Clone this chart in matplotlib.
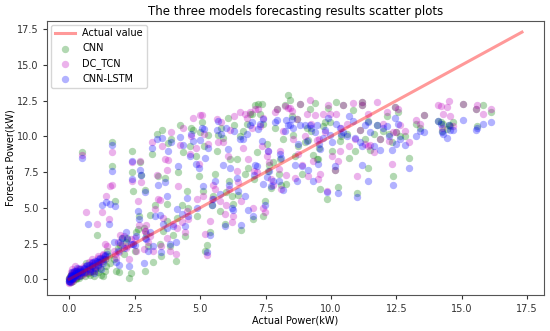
import matplotlib
matplotlib.use("Agg")
import matplotlib.pyplot as plt

# actual power and the three model forecasts (kW)
actual = [0.0, 0.0, 0.02, 0.05, 0.05, 0.08, 0.1, 0.1, 0.12, 0.15, 0.18, 0.2, 0.22, 0.25, 0.28,
          0.3, 0.35, 0.38, 0.4, 0.45, 0.5, 0.55, 0.6, 0.65, 0.7, 0.75, 0.8, 0.85, 0.9, 0.95,
          1.0, 1.05, 1.1, 1.15, 1.2, 1.25, 1.3, 1.35, 1.4, 1.45, 1.5, 1.55, 1.62, 1.65, 1.7,
          1.75, 1.8, 1.85, 1.9, 2.0, 2.1, 2.2, 2.3, 2.35, 2.38, 2.4, 2.45, 2.55, 2.63, 2.65,
          2.71, 2.75, 2.84, 2.88, 2.9, 3.0, 3.08, 3.2, 3.27, 3.34, 3.4, 3.46, 3.5, 3.53, 3.66,
          3.72, 3.75, 3.78, 3.85, 3.95, 4.06, 4.15, 4.23, 4.3, 4.42, 4.5, 4.6, 4.67, 4.74, 4.83,
          4.9, 5.0, 5.06, 5.12, 5.2, 5.25, 5.3, 5.38, 5.45, 5.55, 5.63, 5.69, 5.75, 5.88, 5.94,
          6.0, 6.05, 6.14, 6.2, 6.27, 6.4, 6.52, 6.58, 6.65, 6.71, 6.84, 6.9, 6.97, 7.03, 7.1,
          7.16, 7.22, 7.29, 7.35, 7.42, 7.48, 7.55, 7.61, 7.7, 7.8, 7.92, 8.0, 8.1, 8.17, 8.24,
          8.3, 8.37, 8.43, 8.56, 8.62, 8.69, 8.8, 8.88, 9.0, 9.07, 9.14, 9.2, 9.3, 9.39, 9.45,
          9.5, 9.6, 9.7, 9.77, 9.85, 9.96, 10.05, 10.14, 10.2, 10.28, 10.35, 10.47, 10.6, 10.7,
          10.85, 10.98, 11.1, 11.17, 11.2, 11.3, 11.43, 11.5, 11.63, 11.75, 11.87, 12.0, 12.13,
          12.32, 12.38, 12.45, 12.5, 12.58, 12.64, 12.83, 13.0, 13.25, 13.55, 14.1, 14.2, 14.23,
          14.42, 14.5, 14.55, 14.68, 15.05, 15.55, 15.6, 15.8, 16.1]

cnn = [-0.1, 0.1, 0.2, 0.0, -0.2, 0.3, 0.1, 0.4, 0.0, 0.2, 0.5, 0.1, 0.3, 0.0, 0.6,
       0.2, 0.4, 0.1, 0.7, 0.3, 8.9, 0.5, 0.2, 1.1, 0.4, 0.8, 0.3, 0.6, 1.0, 0.2,
       0.7, 3.1, 0.5, 1.2, 0.3, 1.5, 0.2, 1.4, 0.9, 2.0, 1.6, 1.1, 9.6, 7.9, 1.4,
       5.5, 0.6, 2.2, 0.5, 2.9, 1.8, 2.9, 0.05, 0.4, 9.0, 7.5, 6.2, 3.3, 3.5, 4.4,
       8.2, 7.3, 3.6, 0.6, 6.25, 2.3, 4.5, 1.2, 5.2, 10.2, 7.2, 2.5, 1.6, 10.45, 7.1,
       4.1, 5.3, 9.56, 2.3, 3.1, 1.3, 7.5, 10.8, 5.2, 3.0, 6.2, 9.3, 10.56, 10.45, 8.6,
       4.4, 10.3, 11.0, 6.2, 2.0, 2.4, 10.1, 3.3, 5.2, 7.4, 9.0, 10.1, 4.8, 9.9, 3.9,
       6.1, 11.3, 8.45, 5.8, 5.3, 8.45, 10.0, 3.45, 10.35, 7.4, 7.77, 11.6, 11.6, 4.2, 12.2,
       8.9, 12.3, 11.6, 12.3, 4.4, 5.5, 9.45, 7.6, 6.4, 8.2, 11.9, 7.4, 6.6, 9.8, 12.2,
       6.7, 12.9, 12.55, 10.1, 8.6, 11.25, 12.3, 7.4, 9.6, 10.6, 9.75, 11.9, 8.7, 12.36, 8.45,
       8.45, 6.3, 10.7, 11.0, 5.6, 11.0, 9.0, 7.65, 12.4, 6.45, 9.7, 12.2, 10.2, 8.5,
       11.85, 6.05, 10.45, 12.2, 12.4, 9.8, 7.77, 9.05, 10.2, 10.8, 9.85, 10.4, 11.4,
       9.6, 7.2, 12.07, 10.3, 11.7, 10.0, 10.0, 8.5, 10.9, 11.5, 11.05, 11.0, 10.4,
       10.5, 10.8, 10.7, 11.0, 12.3, 11.9, 10.7, 12.2, 11.7]

dc_tcn = [-0.2, -0.3, 0.1, 0.3, 0.0, 0.5, -0.1, 0.2, 0.7, 0.1, 0.4, 0.9, 0.2, 0.5, 0.3,
          0.6, 0.2, 0.8, 0.5, 0.4, 8.7, 0.9, 0.4, 4.7, 0.7, 1.2, 0.5, 1.4, 0.8, 0.6,
          1.1, 3.9, 1.6, 0.9, 1.3, 4.7, 1.8, 2.5, 5.8, 2.3, 4.2, 6.5, 8.9, 6.6, 2.0,
          1.8, 1.5, 2.6, 1.9, 2.4, 3.0, 2.3, 1.4, 2.8, 8.2, 6.9, 2.5, 2.0, 5.5, 3.8,
          8.3, 6.8, 2.15, 3.4, 3.4, 2.6, 3.0, 2.0, 4.9, 7.3, 5.6, 5.55, 2.3, 9.3, 8.4,
          2.9, 7.65, 8.35, 2.0, 3.9, 1.8, 6.5, 9.4, 4.0, 3.3, 4.8, 8.8, 10.0, 11.3, 9.2,
          5.6, 11.5, 11.5, 5.8, 3.2, 1.7, 9.5, 4.1, 5.6, 6.3, 11.2, 9.6, 5.5, 9.6, 4.6,
          5.2, 8.6, 10.45, 4.0, 4.4, 7.6, 11.7, 5.5, 9.2, 11.6, 8.45, 11.7, 10.6, 5.0, 11.9,
          7.5, 11.9, 10.7, 9.3, 5.0, 4.7, 8.6, 9.0, 7.0, 6.6, 11.9, 7.7, 6.3, 10.4, 12.1,
          7.3, 12.0, 12.0, 9.8, 7.1, 11.25, 12.3, 8.0, 10.0, 11.6, 7.2, 12.55, 8.3, 11.5, 9.75,
          7.0, 7.4, 11.6, 10.3, 6.2, 11.6, 8.6, 7.65, 11.6, 8.3, 9.0, 12.2, 10.9, 9.3,
          12.35, 7.2, 10.45, 12.4, 12.2, 9.5, 9.3, 9.4, 8.9, 12.4, 9.85, 10.9, 11.7,
          8.1, 10.3, 12.07, 10.3, 11.95, 10.8, 10.4, 9.6, 11.15, 11.5, 12.2, 12.1, 10.6,
          12.07, 12.5, 11.4, 10.7, 12.3, 11.9, 12.2, 11.6, 11.95]

cnn_lstm = [-0.1, 0.0, -0.2, 0.1, 0.2, 0.3, 0.0, 0.5, 0.2, 0.1, 0.6, 0.3, 0.2, 0.4, 0.8,
            0.3, 0.5, 0.2, 0.6, 0.4, 8.5, 0.7, 0.5, 0.9, 3.9, 1.0, 0.6, 0.9, 1.2, 0.4,
            0.8, 1.3, 1.0, 1.4, 0.7, 5.2, 1.1, 1.7, 5.4, 1.8, 3.9, 5.3, 9.4, 7.6, 2.6,
            5.1, 1.2, 2.0, 1.0, 2.9, 2.2, 2.8, 0.9, 2.5, 8.3, 7.0, 2.5, 3.0, 4.8, 4.2,
            7.65, 7.3, 1.1, 2.9, 6.1, 2.0, 3.3, 2.3, 4.4, 9.8, 6.6, 4.5, 1.9, 9.9, 6.8,
            3.6, 5.8, 9.0, 2.5, 3.7, 2.6, 7.9, 9.98, 4.6, 3.7, 5.7, 8.6, 10.2, 9.7, 8.1,
            5.0, 9.75, 10.6, 6.5, 8.5, 1.9, 9.2, 3.1, 5.2, 6.9, 10.45, 11.1, 6.0, 7.98, 3.7,
            10.6, 9.1, 7.77, 5.0, 4.85, 7.1, 9.8, 3.8, 9.8, 5.8, 4.85, 10.8, 11.0, 4.4, 8.0,
            7.9, 10.5, 10.9, 9.7, 6.7, 5.2, 7.18, 9.0, 6.5, 6.9, 11.15, 6.9, 8.5, 6.24, 10.4,
            11.15, 10.8, 10.8, 10.6, 8.0, 6.86, 10.8, 7.9, 10.8, 9.7, 7.65, 10.8, 6.9, 10.3, 10.8,
            8.1, 9.1, 9.9, 10.45, 6.1, 10.1, 9.6, 7.9, 10.9, 6.05, 10.57, 10.3, 10.0, 11.4,
            11.1, 5.78, 9.6, 8.0, 9.3, 10.8, 6.9, 10.3, 9.3, 10.8, 9.05, 10.6, 10.7,
            9.05, 6.6, 11.3, 9.5, 10.9, 9.85, 9.4, 7.77, 10.0, 10.33, 11.05, 10.9, 10.3,
            9.86, 10.8, 10.45, 10.45, 11.15, 10.45, 10.6, 10.9, 11.0]

# second pass: denser spots (origin cluster, along the line, upper band)
actual += [0.0, 0.03, 0.06, 0.09, 0.13, 0.17, 0.21, 0.27, 0.33, 0.42, 0.48, 0.58, 0.68,
           0.78, 0.88, 0.98, 1.08, 1.18, 1.28, 1.38, 1.95, 2.15, 2.5, 2.95, 3.15, 3.6, 3.9,
           4.1, 4.36, 4.55, 4.95, 5.15, 5.5, 5.8, 6.1, 6.3, 6.45, 6.78, 7.05, 7.4, 7.65,
           7.85, 8.05, 8.5, 8.75, 9.25, 9.55, 9.9, 10.4, 10.9, 11.4, 12.2, 13.4, 14.3]
cnn += [0.0, -0.1, 0.2, 0.0, -0.1, 0.3, 0.2, 0.1, 0.5, 0.2, 0.6, 0.4, 0.7,
        0.5, 0.9, 0.6, 1.0, 0.8, 1.3, 0.6, 2.4, 2.6, 2.0, 3.2, 8.8, 3.4, 9.8,
        4.3, 8.9, 5.0, 7.2, 9.3, 5.8, 10.6, 6.9, 10.8, 5.9, 10.9, 7.0, 10.9, 8.0,
        10.6, 8.4, 11.4, 9.3, 10.4, 9.2, 12.0, 10.0, 9.0, 11.1, 10.2, 10.6, 10.9]
dc_tcn += [0.1, 0.0, -0.2, 0.2, 0.4, 0.0, 0.6, 0.3, 0.7, 0.5, 0.3, 0.8, 0.6,
           1.0, 1.2, 0.9, 1.5, 1.2, 1.7, 1.4, 3.1, 2.2, 2.9, 3.8, 9.6, 4.3, 10.3,
           3.6, 10.6, 4.2, 8.1, 10.2, 6.6, 11.0, 6.3, 11.4, 6.8, 11.3, 7.6, 11.3, 8.2,
           11.7, 9.0, 11.8, 8.8, 10.9, 9.8, 12.2, 10.6, 9.8, 11.6, 9.7, 10.9, 11.6]
cnn_lstm += [-0.1, 0.1, 0.0, 0.2, 0.1, 0.3, 0.4, 0.6, 0.4, 0.7, 0.5, 0.8, 1.0,
             0.7, 1.1, 1.3, 1.2, 1.5, 1.4, 1.6, 2.6, 3.3, 2.4, 2.8, 9.2, 3.9, 9.6,
             4.9, 9.4, 4.4, 7.8, 10.5, 5.6, 10.2, 6.6, 10.4, 6.2, 10.2, 7.3, 11.2, 7.6,
             11.0, 8.8, 11.2, 9.5, 10.6, 9.5, 11.3, 10.2, 9.9, 11.0, 10.0, 10.4, 10.2]

# range spanned by the "Actual value" reference line
actual_range = [0.0, 17.3]

plt.rcParams['font.family'] = 'DejaVu Sans'
plt.rcParams['font.size'] = 7

fig, ax = plt.subplots(figsize=(5.5, 3.31), dpi=100)
fig.subplots_adjust(left=0.086, right=0.989, bottom=0.109, top=0.9375)

ax.plot(actual_range, actual_range, color='r', alpha=0.4, linewidth=2.2, label='Actual value')
ax.scatter(actual, cnn, s=28, color='g', alpha=0.3, linewidths=0, label='CNN')
ax.scatter(actual, dc_tcn, s=28, color='m', alpha=0.3, linewidths=0, label='DC_TCN')
ax.scatter(actual, cnn_lstm, s=28, color='b', alpha=0.3, linewidths=0, label='CNN-LSTM')

ax.set_xlim(-0.84, 18.14)
ax.set_ylim(-1.1, 18.1)
ax.set_xticks([0.0, 2.5, 5.0, 7.5, 10.0, 12.5, 15.0, 17.5])
ax.set_yticks([0.0, 2.5, 5.0, 7.5, 10.0, 12.5, 15.0, 17.5])
ax.tick_params(labelsize=7, colors='#333333', length=3)
for sp in ax.spines.values():
    sp.set_color('#555555')

ax.set_title('The three models forecasting results scatter plots', fontsize=8.5, pad=4)
ax.set_xlabel('Actual Power(kW)', fontsize=7, labelpad=1)
ax.set_ylabel('Forecast Power(kW)', fontsize=7, labelpad=1)
ax.legend(loc='upper left', fontsize=7, borderaxespad=0.4)

fig.savefig('out.png', dpi=100)
